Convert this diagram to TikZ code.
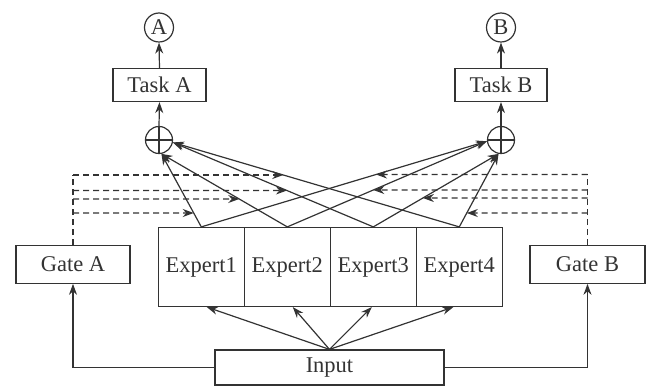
\documentclass[tikz,border=0pt]{standalone}
\usepackage{fontspec}
\setmainfont{Liberation Serif}
\usetikzlibrary{arrows.meta,calc}
\definecolor{ink}{HTML}{333333}
\begin{document}
\begin{tikzpicture}[x=1pt,y=-1pt,
  font=\fontsize{22.5}{26}\selectfont,
  every node/.style={text=ink},
  box/.style={draw=ink,line width=1.2pt,rectangle,inner sep=0pt},
  ring/.style={draw=ink,line width=1.2pt,circle,inner sep=0pt},
  oplus/.style={ring,minimum size=27pt,
    path picture={\draw[ink,line width=1.1pt]
      (path picture bounding box.north) -- (path picture bounding box.south)
      (path picture bounding box.west) -- (path picture bounding box.east);}},
  link/.style={draw=ink,line width=1.2pt,-{Stealth[length=11pt,width=8pt]}},
  gatelink/.style={draw=ink,line width=1.2pt,dash pattern=on 6pt off 4pt,
    -{Stealth[length=11pt,width=8pt]}},
  gateline/.style={draw=ink,line width=1.2pt,dash pattern=on 6pt off 4pt}]
\useasboundingbox (0,0) rectangle (649,387);

% outputs and task towers
\node[ring,minimum size=29pt] (cA) at (159,27.5) {A};
\node[ring,minimum size=29pt] (cB) at (501,27.5) {B};
\node[box,minimum width=93pt,minimum height=33pt] (taskA) at (159.5,85) {Task A};
\node[box,minimum width=92pt,minimum height=33pt] (taskB) at (501,85) {Task B};
\node[oplus] (oA) at (159,140) {};
\node[oplus] (oB) at (501,140) {};

% shared experts
\foreach \i/\x in {1/201.3,2/287.3,3/373.3,4/459.3}
  \node[box,minimum width=86pt,minimum height=79pt] (e\i) at (\x,267) {Expert\i};

% gates and input
\node[box,minimum width=114pt,minimum height=37.5pt] (gateA) at (73,264.5) {Gate A};
\node[box,minimum width=115pt,minimum height=37.5pt] (gateB) at (587.5,264.5) {Gate B};
\node[box,minimum width=229pt,minimum height=35pt] (input) at (329.5,367.5) {Input};

% towers
\draw[link] (oA.north) -- (taskA.south);
\draw[link] (taskA.north) -- (cA.south);
\draw[link] (oB.north) -- (taskB.south);
\draw[link] (taskB.north) -- (cB.south);

% expert outputs to the weighted sums
\coordinate (aLow) at (oA.-80);
\coordinate (aSide) at (oA.-10);
\coordinate (bSide) at (oB.-175);
\coordinate (bLow) at (oB.-100);
\draw[link] (e1.north) -- (aLow);
\draw[link] (e2.north) -- (aLow);
\draw[link] (e3.north) -- (aSide);
\draw[link] (e4.north) -- (aSide);
\draw[link] (e1.north) -- (bSide);
\draw[link] (e2.north) -- (bSide);
\draw[link] (e3.north) -- (bLow);
\draw[link] (e4.north) -- (bLow);

% input to experts and gates
\draw[link] (input.north) -- ($(e1.south)+(5.5,0)$);
\draw[link] (input.north) -- ($(e2.south)+(5.5,0)$);
\draw[link] (input.north) -- ($(e3.south)+(-1.5,0)$);
\draw[link] (input.north) -- ($(e4.south)+(-6,0)$);
\draw[link] (input.west) -| (gateA.south);
\draw[link] (input.east) -| (gateB.south);

% gate A weights
\coordinate (gA1) at (gateA.north |- 0,175);
\coordinate (gA2) at (gateA.north |- 0,190.5);
\coordinate (gA3) at (gateA.north |- 0,199);
\coordinate (gA4) at (gateA.north |- 0,213);
\coordinate (hA1) at (400,175);
\coordinate (hA2) at (400,190.5);
\coordinate (hA3) at (400,199);
\coordinate (hA4) at (400,213);
\draw[gateline] (gateA.north) -- (gA1);
\draw[gatelink] (gA1) -- (intersection of gA1--hA1 and e4.north--aSide);
\draw[gatelink] (gA2) -- (intersection of gA2--hA2 and e3.north--aSide);
\draw[gatelink] (gA3) -- (intersection of gA3--hA3 and e2.north--aLow);
\draw[gatelink] (gA4) -- (intersection of gA4--hA4 and e1.north--aLow);

% gate B weights
\coordinate (gB1) at (gateB.north |- 0,174.5);
\coordinate (gB2) at (gateB.north |- 0,190);
\coordinate (gB3) at (gateB.north |- 0,198);
\coordinate (gB4) at (gateB.north |- 0,213);
\coordinate (hB1) at (250,174.5);
\coordinate (hB2) at (250,190);
\coordinate (hB3) at (250,198);
\coordinate (hB4) at (250,213);
\draw[gateline] (gateB.north) -- (gB1);
\draw[gatelink] (gB1) -- (intersection of gB1--hB1 and e1.north--bSide);
\draw[gatelink] (gB2) -- (intersection of gB2--hB2 and e2.north--bSide);
\draw[gatelink] (gB3) -- (intersection of gB3--hB3 and e3.north--bLow);
\draw[gatelink] (gB4) -- (intersection of gB4--hB4 and e4.north--bLow);
\end{tikzpicture}
\end{document}
